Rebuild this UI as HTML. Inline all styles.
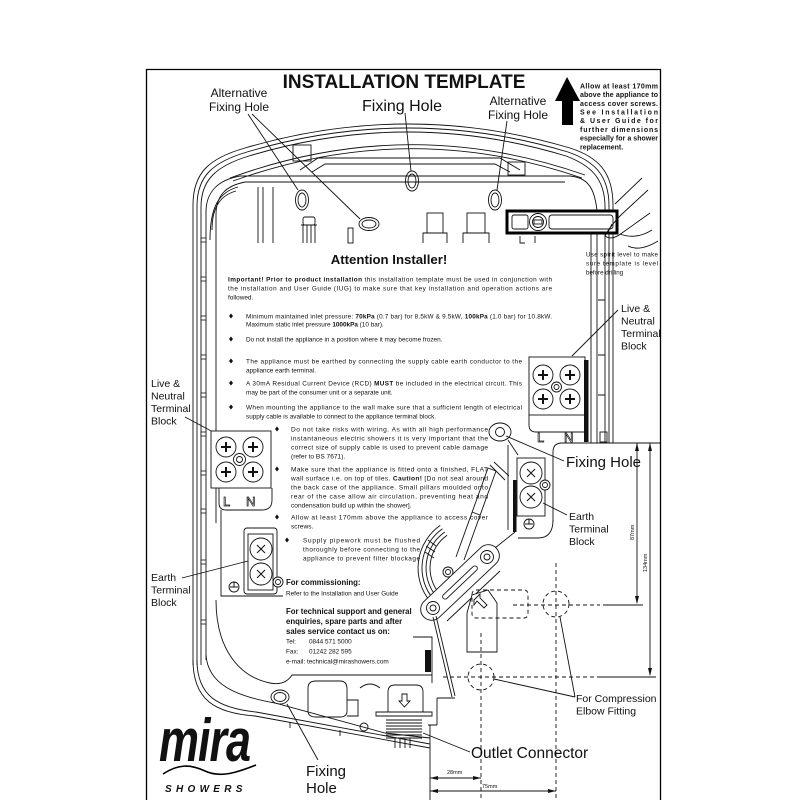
<!DOCTYPE html>
<html><head><meta charset="utf-8"><style>
html,body{margin:0;padding:0;background:#fff}
svg{display:block}
text{font-family:"Liberation Sans",Arial,sans-serif;fill:#111}
.b{font-weight:bold}
.d{fill:none;stroke:#111;stroke-width:0.9}
.t{font-size:6.4px}
.t2{font-size:6.6px}
.lab{font-size:10.5px}
.dash{fill:none;stroke:#111;stroke-width:0.9;stroke-dasharray:4 3}
</style></head><body>
<svg width="800" height="800" viewBox="0 0 800 800" xmlns="http://www.w3.org/2000/svg">
<rect width="800" height="800" fill="#fff"/>
<!-- frame -->
<path d="M146.5,800 V69.5 H660.5 V800" fill="none" stroke="#000" stroke-width="1.3"/>

<!-- title -->
<text x="404" y="88" font-size="19" class="b" text-anchor="middle" fill="#000">INSTALLATION TEMPLATE</text>

<!-- up arrow -->
<polygon points="567,77 555,101 562,101 562,125 573,125 573,101 580,101" fill="#000"/>
<g class="b" font-size="7">
<text x="580" y="88.4" textLength="78" lengthAdjust="spacing">Allow at least 170mm</text>
<text x="580" y="97.1" textLength="78" lengthAdjust="spacing">above the appliance to</text>
<text x="580" y="105.8" textLength="78" lengthAdjust="spacing">access cover screws.</text>
<text x="580" y="114.5" textLength="78" lengthAdjust="spacing">See Installation</text>
<text x="580" y="123.2" textLength="78" lengthAdjust="spacing">&amp; User Guide for</text>
<text x="580" y="131.9" textLength="78" lengthAdjust="spacing">further dimensions</text>
<text x="580" y="140.6" textLength="78" lengthAdjust="spacing">especially for a shower</text>
<text x="580" y="149.3">replacement.</text>
</g>

<!-- top labels -->
<g font-size="12" text-anchor="middle">
<text x="239" y="97">Alternative</text>
<text x="239" y="111">Fixing Hole</text>
<text x="518" y="105">Alternative</text>
<text x="518" y="119">Fixing Hole</text>
</g>
<text x="402" y="111" font-size="16" text-anchor="middle">Fixing Hole</text>
<g class="d">
<path d="M248,114 L298,190 M252,114 L360,219 M405,113 L411,171 M507,121 L497,190"/>
</g>

<!-- case rim -->
<g class="d">
<path d="M193,665 L193,205 C193,172 210,158 245,148 Q408,100 570,148 C598,157 613,172 613,205 L613,443"/>
<path d="M197,665 L197,206 C197,176 213,162 247,152 Q408,104 568,152 C594,161 609,175 609,206 L609,443"/>
<path d="M201,665 L201,207 C201,180 216,166 249,156 Q408,108 566,156 C590,165 605,178 605,207 L605,443"/>
<path d="M230,178 Q408,113 585,175"/>
<path d="M233,181 Q408,118 582,178"/>
<path d="M300,170 L318,158 L500,158 L520,170"/>
<path d="M312,172 L325,164 L495,164 L510,172"/>
<path d="M206,660 L206,212 C206,192 218,180 240,176 L570,176 C590,178 598,190 598,232"/>
<path d="M216,523 L216,215 C216,196 225,186 245,182 L565,182"/>
<path d="M210,240 C210,205 220,192 238,187 M212,230 C212,205 222,195 236,191"/>
<path d="M258,187 V243 M263,187 V243 M273,187 V243"/>
<rect x="508" y="162" width="17" height="13"/>
<rect x="293" y="145" width="18" height="16"/>
<path d="M597,232 V443 M591,232 V443"/>
<path d="M598,300 H605 M598,355 H605 M598,395 H605"/>
<rect x="600" y="432" width="7" height="10"/>
</g>
<!-- left wall ticks -->
<g fill="#fff" stroke="#111" stroke-width="0.8">
<rect x="201" y="238" width="5" height="4"/><rect x="201" y="277" width="5" height="4"/>
<rect x="201" y="316" width="5" height="4"/><rect x="201" y="355" width="5" height="4"/>
<rect x="201" y="393" width="5" height="4"/><rect x="201" y="432" width="5" height="4"/>
<rect x="201" y="471" width="5" height="4"/><rect x="201" y="509" width="5" height="4"/>
<rect x="201" y="560" width="5" height="4"/><rect x="201" y="620" width="5" height="4"/>
</g>

<!-- top interior elements -->
<g class="d">
<rect x="303" y="217" width="12" height="8" rx="2"/>
<path d="M301,225 H317 M303,225 V243 M307,225 V243 M311,225 V243 M315,225 V243"/>
<rect x="348" y="228" width="5" height="15"/>
<rect x="427" y="213" width="16" height="20"/><path d="M423,243 V233 H447 V243"/>
<rect x="467" y="213" width="18" height="20"/><path d="M463,243 V233 H489 V243"/>
<path d="M520,236 V243 H525 M535,236 V243"/>
</g>
<!-- fixing holes top -->
<g class="d">
<ellipse cx="302" cy="200" rx="6.5" ry="10"/><ellipse cx="302" cy="200" rx="4" ry="7"/>
<ellipse cx="369" cy="224" rx="10" ry="6.5"/><ellipse cx="369" cy="224" rx="7" ry="4"/>
<ellipse cx="412" cy="181" rx="6.5" ry="10"/><ellipse cx="412" cy="181" rx="4" ry="7"/>
<ellipse cx="495" cy="200" rx="6.5" ry="10"/><ellipse cx="495" cy="200" rx="4" ry="7"/>
</g>

<!-- spirit level -->
<rect x="507" y="211" width="110" height="22" fill="#fff" stroke="#000" stroke-width="3"/>
<g class="d">
<rect x="512" y="215" width="16" height="14" rx="2"/>
<circle cx="538" cy="222" r="8.5"/><circle cx="538" cy="222" r="5.5"/>
<rect x="534" y="220" width="8" height="4"/>
<rect x="549" y="215" width="64" height="14" rx="3"/>
</g>
<!-- hand -->
<g class="d" stroke-width="0.8">
<path d="M605,236 Q610,226 622,214 L648,190"/>
<path d="M605,236 Q612,241 622,233 L650,213"/>
<path d="M620,234 Q636,240 652,230"/>
<path d="M628,246 Q640,252 658,241"/>
<path d="M615,204 L642,178"/>
<path d="M612,224 L608,232"/>
</g>
<g font-size="6.2">
<text x="586" y="256.5" textLength="72" lengthAdjust="spacing">Use spirit level to make</text>
<text x="586" y="265.5" textLength="72" lengthAdjust="spacing">sure template is level</text>
<text x="586" y="274.5">before drilling</text>
</g>

<!-- Attention text -->
<text x="389" y="264" font-size="13.2" class="b" text-anchor="middle">Attention Installer!</text>
<g class="t">
<text x="228" y="281.5" textLength="324" lengthAdjust="spacing"><tspan class="b">Important! Prior to product installation</tspan> this installation template must be used in conjunction with</text>
<text x="228" y="290.5" textLength="324" lengthAdjust="spacing">the installation and User Guide (IUG) to make sure that key installation and operation actions are</text>
<text x="228" y="299.5">followed.</text>

<text x="246" y="318.5" textLength="306" lengthAdjust="spacing">Minimum maintained inlet pressure: <tspan class="b">70kPa</tspan> (0.7 bar) for 8.5kW &amp; 9.5kW, <tspan class="b">100kPa</tspan> (1.0 bar) for 10.8kW.</text>
<text x="246" y="326.5">Maximum static inlet pressure <tspan class="b">1000kPa</tspan> (10 bar).</text>
<text x="246" y="341.5">Do not install the appliance in a position where it may become frozen.</text>

<text x="246" y="363.5" textLength="276" lengthAdjust="spacing">The appliance must be earthed by connecting the supply cable earth conductor to the</text>
<text x="246" y="372.5">appliance earth terminal.</text>
<text x="246" y="385.5" textLength="276" lengthAdjust="spacing">A 30mA Residual Current Device (RCD) <tspan class="b">MUST</tspan> be included in the electrical circuit. This</text>
<text x="246" y="394.5">may be part of the consumer unit or a separate unit.</text>
<text x="246" y="409.5" textLength="276" lengthAdjust="spacing">When mounting the appliance to the wall make sure that a sufficient length of electrical</text>
<text x="246" y="418.5">supply cable is available to connect to the appliance terminal block.</text>
</g>
<g class="t2">
<text x="291" y="431.5" textLength="197" lengthAdjust="spacing">Do not take risks with wiring. As with all high performance</text>
<text x="291" y="440.5" textLength="197" lengthAdjust="spacing">instantaneous electric showers it is very important that the</text>
<text x="291" y="449.5" textLength="197" lengthAdjust="spacing">correct size of supply cable is used to prevent cable damage</text>
<text x="291" y="458.5">(refer to BS 7671).</text>

<text x="291" y="471.5" textLength="197" lengthAdjust="spacing">Make sure that the appliance is fitted onto a finished, FLAT</text>
<text x="291" y="480.5" textLength="197" lengthAdjust="spacing">wall surface i.e. on top of tiles. <tspan class="b">Caution!</tspan> [Do not seal around</text>
<text x="291" y="489.5" textLength="197" lengthAdjust="spacing">the back case of the appliance. Small pillars moulded onto</text>
<text x="291" y="498.5" textLength="197" lengthAdjust="spacing">rear of the case allow air circulation, preventing heat and</text>
<text x="291" y="507.5">condensation build up within the shower].</text>

<text x="291" y="519.5" textLength="197" lengthAdjust="spacing">Allow at least 170mm above the appliance to access cover</text>
<text x="291" y="528.5">screws.</text>
</g>
<g class="t">
<text x="303" y="542.5" textLength="117" lengthAdjust="spacing">Supply pipework must be flushed</text>
<text x="303" y="551.5" textLength="117" lengthAdjust="spacing">thoroughly before connecting to the</text>
<text x="303" y="560.5" textLength="117" lengthAdjust="spacing">appliance to prevent filter blockage</text>

<text x="286" y="595.5">Refer to the Installation and User Guide</text>
<text x="286" y="643.5">Tel:</text><text x="309" y="643.5">0844 571 5000</text>
<text x="286" y="653.5">Fax:</text><text x="309" y="653.5">01242 282 595</text>
<text x="286" y="663.5">e-mail: technical@mirashowers.com</text>
</g>
<g class="b" font-size="7.8">
<text x="286" y="585">For commissioning:</text>
<text x="286" y="614">For technical support and general</text>
<text x="286" y="624">enquiries, spare parts and after</text>
<text x="286" y="634">sales service contact us on:</text>
</g>
<!-- bullets -->
<g fill="#111">
<polygon points="231,313.5 233,316 231,318.5 229,316"/>
<polygon points="231,336.5 233,339 231,341.5 229,339"/>
<polygon points="231,358.5 233,361 231,363.5 229,361"/>
<polygon points="231,380.5 233,383 231,385.5 229,383"/>
<polygon points="231,404.5 233,407 231,409.5 229,407"/>
<polygon points="277,426.5 279,429 277,431.5 275,429"/>
<polygon points="277,466.5 279,469 277,471.5 275,469"/>
<polygon points="277,514.5 279,517 277,519.5 275,517"/>
<polygon points="287,537.5 289,540 287,542.5 285,540"/>
</g>

<!-- LEFT terminal block -->
<g font-size="10.5">
<text x="151" y="387">Live &amp;</text>
<text x="151" y="399.5">Neutral</text>
<text x="151" y="412">Terminal</text>
<text x="151" y="424.5">Block</text>
<text x="151" y="581">Earth</text>
<text x="151" y="593.5">Terminal</text>
<text x="151" y="606">Block</text>
</g>
<g class="d">
<path d="M185,417 L215,433"/>
<path d="M182,578 L248,561"/>
<rect x="211" y="431" width="60" height="57" fill="#fff"/>
<circle cx="226" cy="447" r="10"/><circle cx="253" cy="447" r="10"/>
<circle cx="226" cy="472" r="10"/><circle cx="253" cy="472" r="10"/>
<circle cx="239.5" cy="459.5" r="6" fill="#fff"/><circle cx="239.5" cy="459.5" r="3"/>
<path d="M219,488 V503 Q219,510 226,510 H262 Q272,510 272,500 V488"/>
<path d="M221,510 V596 H283"/>
<rect x="244" y="528" width="33" height="66" rx="3"/>
<rect x="248" y="534" width="25" height="56"/>
<circle cx="261" cy="549" r="11" fill="#fff"/><circle cx="261" cy="574" r="11" fill="#fff"/>
<circle cx="278" cy="582" r="5" fill="#fff"/><circle cx="278" cy="582" r="2.5"/>
<circle cx="234" cy="587" r="5"/>
</g>
<g stroke="#111" stroke-width="2">
<path d="M221,447 H231 M226,442 V452 M248,447 H258 M253,442 V452 M221,472 H231 M226,467 V477 M248,472 H258 M253,467 V477"/>
</g>
<g stroke="#111" stroke-width="1">
<path d="M257,545 L265,553 M265,545 L257,553 M257,570 L265,578 M265,570 L257,578 M234,582 V587 M230,587 H238"/>
</g>
<g font-size="13" stroke="#111" stroke-width="0.7">
<text x="223" y="506" style="fill:#fff">L</text><text x="246" y="506" style="fill:#fff">N</text>
</g>

<!-- RIGHT terminal block -->
<g font-size="10.5">
<text x="621" y="312">Live &amp;</text>
<text x="621" y="324.5">Neutral</text>
<text x="621" y="337">Terminal</text>
<text x="621" y="349.5">Block</text>
<text x="569" y="520">Earth</text>
<text x="569" y="532.5">Terminal</text>
<text x="569" y="545">Block</text>
</g>
<text x="566" y="467" font-size="15">Fixing Hole</text>
<g class="d">
<path d="M618,310 L572,356"/>
<rect x="529" y="357" width="56" height="58" fill="#fff"/>
<circle cx="543" cy="375" r="10"/><circle cx="570" cy="375" r="10"/>
<circle cx="543" cy="399" r="10"/><circle cx="570" cy="399" r="10"/>
<circle cx="556.5" cy="387" r="5" fill="#fff"/><circle cx="556.5" cy="387" r="2.5"/>
<path d="M529,415 V425 Q529,432 536,432 H584"/>
<path d="M553,522 V452 Q553,443 562,443 H660"/>
<path d="M553,520 Q553,538 538,538 H518"/>
<ellipse cx="500" cy="432" rx="11" ry="9"/><circle cx="500" cy="432" r="4.5"/>
<path d="M506,436 L564,461"/>
<path d="M508,440 L518,455 M508,445 V530"/>
<rect x="517" y="458" width="28" height="58"/>
<circle cx="531" cy="473" r="11" fill="#fff"/><circle cx="531" cy="497" r="11" fill="#fff"/>
<circle cx="545" cy="485" r="5" fill="#fff"/><circle cx="545" cy="485" r="2.5"/>
<circle cx="529" cy="524" r="5"/>
<path d="M567,515 L543,503"/>
<path d="M515,532 L490,552"/>
</g>
<rect x="584" y="360" width="4.5" height="82" fill="#111"/>
<rect x="513" y="480" width="3.5" height="52" fill="#111"/>
<g stroke="#111" stroke-width="2">
<path d="M538,375 H548 M543,370 V380 M565,375 H575 M570,370 V380 M538,399 H548 M543,394 V404 M565,399 H575 M570,394 V404"/>
</g>
<g stroke="#111" stroke-width="1">
<path d="M527,469 L535,477 M535,469 L527,477 M527,493 L535,501 M535,493 L527,501 M529,519 V524 M525,524 H533"/>
</g>
<g font-size="13" stroke="#111" stroke-width="0.7">
<text x="537" y="442" style="fill:#fff">L</text><text x="564" y="442" style="fill:#fff">N</text>
</g>

<!-- mechanism -->
<g class="d">
<path d="M447.1,535.2 A40 40 0 0 0 439.4,593.7"/>
<path d="M444.8,532 A44 44 0 0 0 436.3,596.3"/>
<path d="M442.5,528.7 A48 48 0 0 0 433.2,598.9"/>
<path d="M440.2,525.4 A52 52 0 0 0 430.2,601.4"/>
<path d="M428,540 L436,546 M426,546 L435,552 M425,552 L434,558"/>
<circle cx="448" cy="572" r="5"/><circle cx="448" cy="572" r="2.5"/>
<path d="M456,557 L488,468 M464,560 L496,471 M488,468 L496,471 M472,512 L480,515"/>
<path d="M490,465 L505,480 M494,462 L509,476"/>
<rect x="410" y="571.5" width="100" height="22" rx="11" fill="#fff" transform="rotate(-43.4 460 582.5)"/>
<rect x="437" y="580" width="46" height="5" rx="2.5" transform="rotate(-43.4 460 582.5)"/>
<circle cx="433" cy="608" r="6.5" fill="#fff"/><circle cx="433" cy="608" r="3"/>
<circle cx="487" cy="557" r="6.5" fill="#fff"/><circle cx="487" cy="557" r="3"/>
<path d="M447,621 L500,571"/>
<path d="M433,617 L452,697 M436,616 L455,696 M437,698 H455 M437,698 V725 M428,725 H437 M430,725 V800"/>
<!-- elbow -->
<path d="M467,652 V613 L472,595 L488,590 L497,603 V652 Z" fill="#fff"/>
<path d="M474,600 L480,594 L480,598 L487,605 L484,608 L477,601 L474,605 Z"/>
</g>
<rect x="472" y="590" width="56" height="28" rx="4" class="dash"/>
<g class="dash">
<path d="M513,605 H600"/>
<path d="M443,677 H600"/>
<path d="M556,563 V800"/>
<path d="M481,633 V800"/>
<circle cx="556" cy="604" r="13"/>
<circle cx="481" cy="677" r="13"/>
</g>
<!-- dims -->
<g class="d">
<path d="M603,605 H643 M600,677 H656"/>
<path d="M637,443 V603 M650,443 V675"/>
<path d="M430,778 H481 M430,791 H556"/>
<path d="M575,697 L494,679 M575,697 L560,617"/>
<path d="M470,752 L423,733"/>
<path d="M318,760 L287,704"/>
</g>
<g fill="#111">
<polygon points="637,443 635,451 639,451"/><polygon points="637,604 635,596 639,596"/>
<polygon points="650,443 648,451 652,451"/><polygon points="650,676 648,668 652,668"/>
<polygon points="430,778 438,776 438,780"/><polygon points="481,778 473,776 473,780"/>
<polygon points="430,791 438,789 438,793"/><polygon points="556,791 548,789 548,793"/>
</g>
<g font-size="5.5">
<text transform="translate(634,540) rotate(-90)">87mm</text>
<text transform="translate(647,572) rotate(-90)">134mm</text>
<text x="447" y="774">28mm</text>
<text x="482" y="788">75mm</text>
</g>
<g class="lab">
<text x="576" y="702">For Compression</text>
<text x="576" y="714.5">Elbow Fitting</text>
</g>
<text x="471" y="758" font-size="15.5">Outlet Connector</text>

<!-- bottom case -->
<g class="d">
<path d="M193,660 C193,700 215,713 255,716 L430,748"/>
<path d="M197,660 C197,696 218,708 256,712 L430,744"/>
<path d="M206,655 C208,684 235,696 275,703 L385,733 L430,738"/>
<path d="M216,600 C216,650 240,677 270,683 Q285,686 292,675 L432,675"/>
<path d="M413,637 H432 V683"/>
<ellipse cx="280" cy="697" rx="9" ry="7"/><ellipse cx="280" cy="697" rx="6" ry="4.5"/>
<path d="M308,688 Q308,681 316,681 H340 Q347,681 347,689 V711 Q347,717 340,717 H316 Q308,717 308,711 Z"/>
<path d="M347,700 H358 V716 H347"/>
<circle cx="364" cy="727" r="4"/>
<path d="M360,688 Q370,680 380,688"/>
<path d="M388,712 V692 Q388,685 395,685 H416 Q423,685 423,692 V712"/>
<path d="M376,712 H432 V716 H376 Z"/>
<path d="M402,694 H407 V701 H410 L404.5,707 L399,701 H402 Z"/>
<path d="M386,720 H422 M386,723 H422 M386,726 H422 M386,729 H422 M386,732 H422 M386,735 H422 M386,738 H422"/>
<path d="M395,738 V748 M400,738 V748 M405,738 V748 M410,738 V748"/>
<path d="M290,722 V728 M340,730 V736"/>
</g>
<rect x="425" y="650" width="6" height="22" fill="#111"/>

<!-- mira logo -->
<text transform="translate(159,761) scale(1,1.35)" font-size="45" font-weight="bold" font-style="italic" letter-spacing="-1" fill="#000">mira</text>
<path d="M163,774 C178,764 190,764 205,771 C220,778 236,773 256,765" fill="none" stroke="#000" stroke-width="1.6"/>
<text x="165" y="792" font-size="10" font-weight="bold" font-style="italic" letter-spacing="4.3" fill="#000">SHOWERS</text>
<g font-size="15">
<text x="306" y="776">Fixing</text>
<text x="306" y="793">Hole</text>
</g>
</svg>
</body></html>
